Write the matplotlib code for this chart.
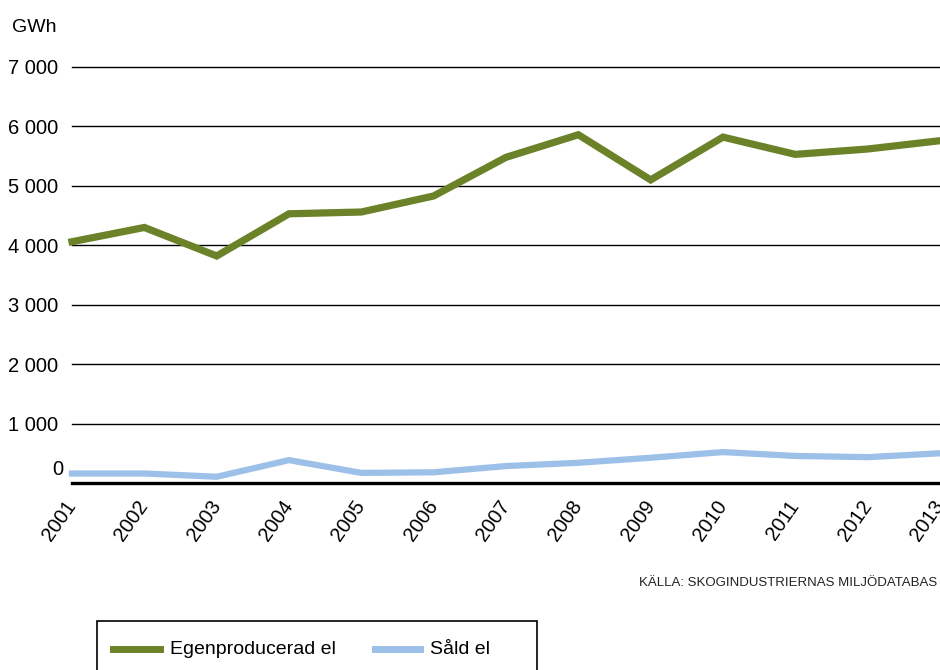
import matplotlib.pyplot as plt

## data ##
years = [2001, 2002, 2003, 2004, 2005, 2006, 2007, 2008, 2009, 2010, 2011, 2012, 2013]
egen = [4060, 4300, 3820, 4530, 4560, 4830, 5480, 5860, 5100, 5820, 5530, 5620, 5760]  # Egenproducerad el
sald = [160, 160, 105, 385, 170, 180, 285, 340, 425, 520, 455, 435, 500]  # Såld el
yticks = [0, 1000, 2000, 3000, 4000, 5000, 6000, 7000]
ytick_labels = ["0", "1 000", "2 000", "3 000", "4 000", "5 000", "6 000", "7 000"]

green = "#6b8229"
blue = "#9dc0e8"

plt.rcParams["font.family"] = ["Liberation Sans", "DejaVu Sans"]

fig = plt.figure(figsize=(9.4, 6.7), dpi=100)
ax = fig.add_axes([72 / 940, 1 - 483 / 670, 868 / 940, (483 - 67) / 670])

for y in yticks[1:]:
    ax.axhline(y, color="black", lw=1.0, zorder=1, clip_on=False)
ax.axhline(0, color="black", lw=2.4, zorder=4, clip_on=False)  # thick base line

ax.plot(years, egen, color=green, lw=5.2, solid_joinstyle="miter", zorder=3, clip_on=False)
ax.plot(years, sald, color=blue, lw=4.5, solid_joinstyle="miter", zorder=3, clip_on=False)

ax.set_xlim(2001, 2013)
ax.set_ylim(0, 7000)
for s in ax.spines.values():
    s.set_visible(False)

ax.set_yticks(yticks)
# "0" sits a bit above the zero line in the original, so draw it by hand
ax.set_yticklabels([""] + ytick_labels[1:], fontsize=14.5)
ax.tick_params(axis="y", length=0, pad=10)
ax.annotate(ytick_labels[0], xy=(0, yticks[0]), xycoords=("axes fraction", "data"),
            xytext=(-6, 10), textcoords="offset points", fontsize=14.5,
            ha="right", va="center")

ax.set_xticks(years)
ax.set_xticklabels([str(y) for y in years], fontsize=14.5, rotation=55,
                   ha="right", va="center", rotation_mode="anchor")
ax.tick_params(axis="x", length=0, pad=14)

fig.text(12 / 940, 1 - 28 / 670, "GWh", fontsize=14, ha="left", va="center")

fig.text(937 / 940, 1 - 583 / 670, "KÄLLA: SKOGINDUSTRIERNAS MILJÖDATABAS",
         fontsize=9.5, ha="right", va="center", color="#222222")

# legend box, runs off the bottom edge like the original
box = plt.Rectangle((97 / 940, -0.05), 440 / 940, 0.05 + (670 - 621) / 670,
                    transform=fig.transFigure, fill=False, edgecolor="black", lw=1.2)
fig.add_artist(box)
ly = 1 - 649 / 670
fig.add_artist(plt.Line2D([113 / 940, 160 / 940], [ly, ly], transform=fig.transFigure,
                          color=green, lw=5))
fig.text(170 / 940, ly, "Egenproducerad el", fontsize=14, ha="left", va="center")
fig.add_artist(plt.Line2D([375 / 940, 420 / 940], [ly, ly], transform=fig.transFigure,
                          color=blue, lw=5))
fig.text(430 / 940, ly, "Såld el", fontsize=14, ha="left", va="center")

fig.savefig("out.png", dpi=100)
